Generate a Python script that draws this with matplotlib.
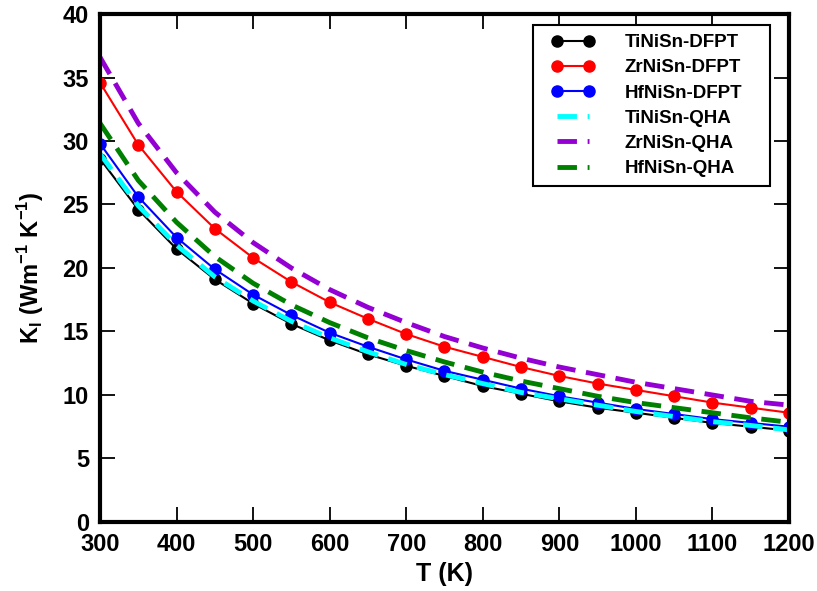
import numpy as np
import matplotlib
matplotlib.use("Agg")
import matplotlib.pyplot as plt
from matplotlib.patches import Rectangle

plt.rcParams['font.family'] = ['Liberation Sans', 'DejaVu Sans']
plt.rcParams['font.weight'] = 'bold'
plt.rcParams['mathtext.fontset'] = 'custom'
plt.rcParams['mathtext.rm'] = 'Liberation Sans:bold'
plt.rcParams['mathtext.bf'] = 'Liberation Sans:bold'

temps = [300, 350, 400, 450, 500, 550, 600, 650, 700, 750,
         800, 850, 900, 950, 1000, 1050, 1100, 1150, 1200]

# lattice thermal conductivity, DFPT
tinisn_dfpt = [28.6, 24.6, 21.5, 19.1, 17.2, 15.6, 14.3, 13.2, 12.3, 11.5,
               10.7, 10.1, 9.5, 9.0, 8.6, 8.2, 7.8, 7.5, 7.2]
zrnisn_dfpt = [34.6, 29.7, 26.0, 23.1, 20.8, 18.9, 17.3, 16.0, 14.8, 13.8,
               13.0, 12.2, 11.5, 10.9, 10.4, 9.9, 9.4, 9.0, 8.6]
hfnisn_dfpt = [29.8, 25.6, 22.4, 19.9, 17.9, 16.3, 14.9, 13.8, 12.8, 11.9,
               11.2, 10.5, 9.9, 9.4, 8.9, 8.5, 8.1, 7.8, 7.5]

# lattice thermal conductivity, QHA
tinisn_qha = [29.0, 24.9, 21.8, 19.3, 17.4, 15.8, 14.5, 13.4, 12.4, 11.6,
              10.9, 10.2, 9.7, 9.2, 8.7, 8.3, 7.9, 7.6, 7.25]
zrnisn_qha = [36.6, 31.4, 27.5, 24.4, 22.0, 20.0, 18.3, 16.9, 15.7, 14.6,
              13.7, 12.9, 12.2, 11.6, 11.0, 10.5, 10.0, 9.5, 9.2]
hfnisn_qha = [31.4, 26.9, 23.6, 20.9, 18.8, 17.1, 15.7, 14.5, 13.5, 12.6,
              11.8, 11.1, 10.5, 9.9, 9.4, 9.0, 8.6, 8.2, 7.85]

fig = plt.figure(figsize=(8.17, 5.91), dpi=100)
ax = fig.add_axes([0.1224, 0.1168, 0.8433, 0.8595])

ax.plot(temps, tinisn_dfpt, '-o', color='black', lw=1.5, ms=8, label='TiNiSn-DFPT')
ax.plot(temps, zrnisn_dfpt, '-o', color='red', lw=1.5, ms=8, label='ZrNiSn-DFPT')
ax.plot(temps, hfnisn_dfpt, '-o', color='blue', lw=1.5, ms=8, label='HfNiSn-DFPT')
ax.plot(temps, tinisn_qha, color='cyan', lw=3.5, dashes=(4, 2.2), label='TiNiSn-QHA')
ax.plot(temps, zrnisn_qha, color='#9400d3', lw=3.5, dashes=(4, 2.2), label='ZrNiSn-QHA')
ax.plot(temps, hfnisn_qha, color='green', lw=3.5, dashes=(4, 2.2), label='HfNiSn-QHA')

ax.set_xlim(300, 1200)
ax.set_ylim(0, 40)
ax.set_xticks(np.arange(300, 1201, 100))
ax.set_yticks(np.arange(0, 41, 5))
for s in ax.spines.values():
    s.set_linewidth(3)
ax.tick_params(direction='in', top=True, right=True, length=11, width=1.3,
               labelsize=17, pad=8)
for lbl in ax.get_xticklabels() + ax.get_yticklabels():
    lbl.set_fontweight('bold')

ax.set_xlabel('T (K)', fontsize=18, fontweight='bold', labelpad=4)
ax.set_ylabel(r'K$_\mathrm{l}$ (Wm$^{\mathrm{-1}}$ K$^{\mathrm{-1}}$)',
              fontsize=17, fontweight='bold', labelpad=12)

# legend without its own frame; box drawn by hand below
W, H = 817, 591
leg = ax.legend(loc='upper right', bbox_to_anchor=(742 / W, 1 - 34 / H),
                bbox_transform=fig.transFigure, fontsize=13.5, numpoints=2,
                handlelength=2.3, frameon=False, borderpad=0,
                labelspacing=0.43, handletextpad=1.6, borderaxespad=0)
for t in leg.get_texts():
    t.set_fontweight('bold')

fig.canvas.draw()
bb = leg.get_window_extent()
x0, x1 = bb.x0 - 18, bb.x1 + 28
y0, y1 = bb.y0 - 9, bb.y1 + 9
ax.add_patch(Rectangle((x0 / W, y0 / H), (x1 - x0) / W, (y1 - y0) / H,
                       transform=fig.transFigure, facecolor='white',
                       edgecolor='black', lw=1.5, zorder=4.9))
leg.set_zorder(5)

fig.savefig('out.png', dpi=100)
